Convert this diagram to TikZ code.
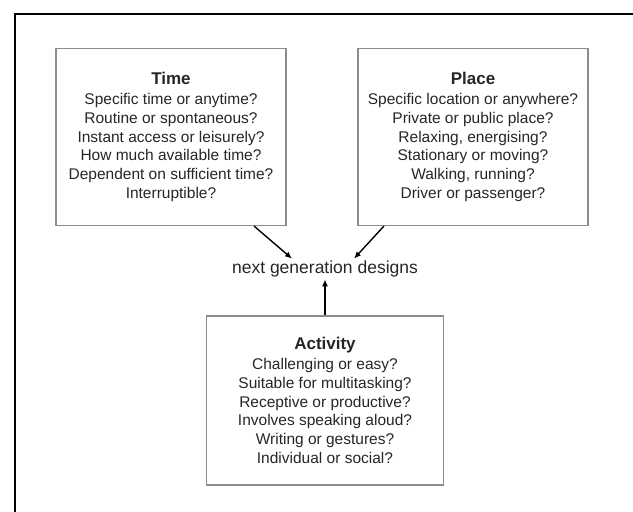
\documentclass[tikz,border=0pt]{standalone}
\usepackage{fontspec}
\setmainfont{Liberation Sans}
\usetikzlibrary{positioning}
\usetikzlibrary{arrows.meta}

\newcommand{\boxtitle}[1]{{\fontsize{17}{18.7}\selectfont\textbf{#1}}}

\begin{document}
\begin{tikzpicture}[x=1pt,y=-1pt,
		box/.style={draw=black!45,line width=1.2pt,align=center,text=black!85,
			minimum width=230pt,minimum height=177pt,
			font=\fontsize{15.5}{18.7}\selectfont},
		arr/.style={-{Latex[length=7pt,width=6pt]},line width=1.4pt}]
		\useasboundingbox (0,0) rectangle (633,512);
		\draw[line width=2pt] (14.5,512) -- (14.5,13.5) -- (633,13.5);
		\node[box] (T) at (171,137) {\boxtitle{Time}\\[1pt]
			Specific time or anytime?\\ Routine or spontaneous?\\
			Instant access or leisurely?\\ How much available time?\\
			Dependent on sufficient time?\\ Interruptible?};
		\node[box] (P) at (473,137) {\boxtitle{Place}\\[1pt]
			Specific location or anywhere?\\ Private or public place?\\
			Relaxing, energising?\\ Stationary or moving?\\
			Walking, running?\\ Driver or passenger?};
		\node[text=black!85,font=\fontsize{17.5}{20}\selectfont,inner sep=2pt] (N) at (325,269) {next generation designs};
		\node[box,minimum width=237pt,minimum height=169pt,below=36pt of N] (A) {\boxtitle{Activity}\\[1pt]
			Challenging or easy?\\ Suitable for multitasking?\\
			Receptive or productive?\\ Involves speaking aloud?\\
			Writing or gestures?\\ Individual or social?};
		\draw[arr] (T.-47.5) -- ([xshift=-33pt]N.north);
		\draw[arr] (P.-135) -- ([xshift=29pt]N.north);
		\draw[arr] (A.north) -- (N.south);
	\end{tikzpicture}
\end{document}
